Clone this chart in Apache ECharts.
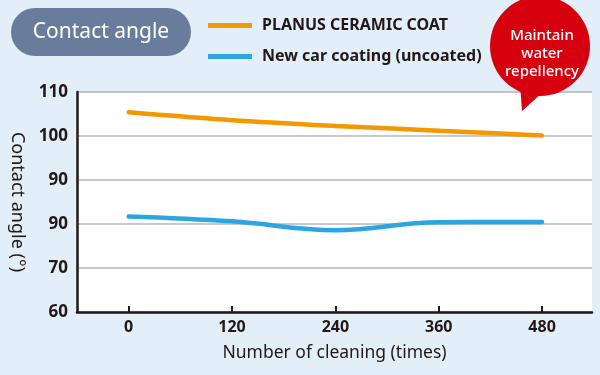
<!DOCTYPE html>
<html>
<head>
<meta charset="utf-8">
<script src="https://cdn.jsdelivr.net/npm/echarts@6/dist/echarts.min.js"></script>
<style>
  html, body { margin: 0; padding: 0; background: #e2eff8; }
  #chart { width: 600px; height: 375px; }
</style>
</head>
<body>
<div id="chart"></div>
<script>
// data
const cleanings = [0, 120, 240, 360, 480]
const ceramicCoat = [105.4, 103.6, 102.3, 101.2, 100.1]
const uncoated = [81.7, 80.6, 78.6, 80.4, 80.45]
// tick labels as printed in the original (the 80 line is labelled 90 there)
const yTickLabels = ['60', '70', '90', '90', '100', '110']
const seriesNames = ['PLANUS CERAMIC COAT', 'New car coating (uncoated)']
const bubbleLines = ['Maintain', 'water', 'repellency']

const dark = '#231815'
const font = 'Noto Sans'

const chart = echarts.init(document.getElementById('chart'), null, { renderer: 'canvas' })

const pairs = (ys) => cleanings.map((x, i) => [x, ys[i]])

chart.setOption({
  backgroundColor: '#e2eff8',
  animation: false,
  textStyle: { fontFamily: font },
  grid: {
    left: 77, right: 8, top: 92, bottom: 63,
    show: true, backgroundColor: '#fff', borderWidth: 0
  },
  legend: {
    orient: 'vertical',
    left: 203,
    top: 10,
    itemWidth: 44,
    itemHeight: 5,
    itemGap: 10,
    icon: 'rect',
    data: seriesNames,
    textStyle: { color: dark, fontSize: 16, fontWeight: 'bold', fontFamily: font, lineHeight: 21, padding: [0, 0, 0, 5] }
  },
  xAxis: {
    type: 'value',
    min: -60,
    max: 538,
    name: 'Number of cleaning (times)',
    nameLocation: 'middle',
    nameGap: 32,
    nameTextStyle: { color: dark, fontSize: 17.5, fontFamily: font },
    axisLine: { onZero: false, lineStyle: { color: dark, width: 2.5 } },
    axisTick: { show: true, inside: true, length: 6, customValues: cleanings, lineStyle: { color: dark, width: 2 } },
    axisLabel: { customValues: cleanings, color: dark, fontSize: 16, fontWeight: 'bold', margin: 7 },
    splitLine: { show: false }
  },
  yAxis: {
    type: 'value',
    min: 60,
    max: 110,
    interval: 10,
    name: 'Contact angle (°)',
    nameLocation: 'middle',
    nameRotate: -90,
    nameGap: 51,
    nameTextStyle: { color: dark, fontSize: 18, fontFamily: font },
    axisLine: { show: true, onZero: false, lineStyle: { color: dark, width: 2.5 } },
    axisTick: { show: false },
    axisLabel: {
      color: dark, fontSize: 17, fontWeight: 'bold', margin: 9,
      formatter: (v) => yTickLabels[Math.round((v - 60) / 10)]
    },
    splitLine: { lineStyle: { color: '#b4b4b4', width: 1.5 } }
  },
  series: [
    {
      name: seriesNames[0],
      type: 'line',
      data: pairs(ceramicCoat),
      smooth: 0.3,
      symbol: 'none',
      color: '#f39800',
      lineStyle: { width: 4.5, cap: 'round' }
    },
    {
      name: seriesNames[1],
      type: 'line',
      data: pairs(uncoated),
      smooth: 0.4,
      symbol: 'none',
      color: '#2ca6e0',
      lineStyle: { width: 4.5, cap: 'round' }
    }
  ],
  graphic: [
    {
      type: 'rect',
      shape: { x: 11, y: 8, width: 180, height: 48, r: 24 },
      style: { fill: '#6a7c9b' }
    },
    {
      type: 'text',
      x: 101, y: 32,
      style: { text: 'Contact angle', fill: '#fff', font: '21px "Noto Sans"', align: 'center', verticalAlign: 'middle' }
    },
    {
      type: 'polygon',
      z: 100,
      shape: { points: [[520, 84], [542, 93], [522, 111]] },
      style: { fill: '#d7000f' }
    },
    {
      type: 'circle',
      z: 100,
      shape: { cx: 540, cy: 46, r: 50 },
      style: { fill: '#d7000f' }
    },
    {
      type: 'text',
      z: 101,
      x: 542, y: 54,
      style: {
        text: bubbleLines.join('\n'), fill: '#fff', font: '500 15px "Noto Sans"',
        lineHeight: 18, align: 'center', verticalAlign: 'middle'
      }
    }
  ]
})
</script>
</body>
</html>
